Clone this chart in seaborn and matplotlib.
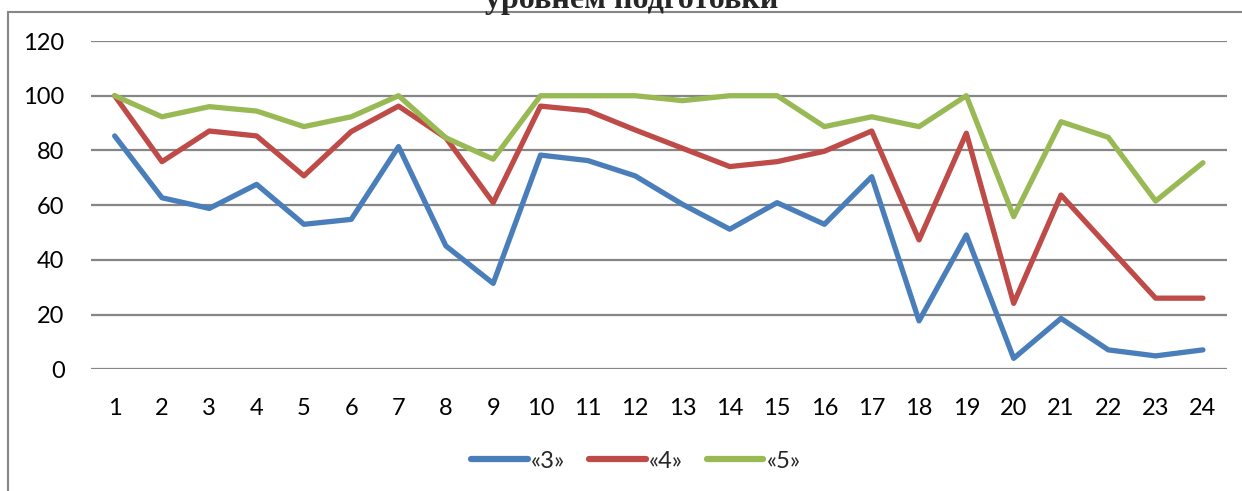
import matplotlib
matplotlib.use('Agg')
import matplotlib.pyplot as plt
import seaborn as sns
import pandas as pd
from matplotlib.patches import Rectangle

# values
lessons = list(range(1, 25))
grade_3 = [85.3, 62.7, 58.8, 67.6, 53.0, 54.8, 81.4, 45.1, 31.4, 78.3, 76.3, 70.7,
           60.3, 51.2, 60.9, 53.0, 70.4, 17.7, 49.1, 4.0, 18.6, 7.1, 4.9, 7.1]
grade_4 = [100, 75.9, 87.1, 85.3, 70.7, 86.9, 96.2, 84.6, 60.9, 96.2, 94.5, 87.5,
           80.8, 74.1, 75.9, 79.7, 87.1, 47.3, 86.3, 24.1, 63.7, 44.8, 26.0, 26.0]
grade_5 = [100, 92.3, 96.0, 94.4, 88.7, 92.3, 100, 84.6, 76.8, 100, 100, 100,
           98.2, 100, 100, 88.7, 92.3, 88.7, 100, 55.8, 90.5, 84.8, 61.5, 75.5]
series_names = ['«3»', '«4»', '«5»']
colors = ['#4A7EBB', '#BE4B48', '#98B954']

df = pd.DataFrame({
    'lesson': lessons * 3,
    'value': grade_3 + grade_4 + grade_5,
    'series': [series_names[0]] * 24 + [series_names[1]] * 24 + [series_names[2]] * 24,
})

sns.set_style('white')
plt.rcParams['font.family'] = ['Lato', 'DejaVu Sans']

fig = plt.figure(figsize=(12.42, 4.91), dpi=100)
ax = fig.add_axes([91 / 1242, 1 - 369.3 / 491, (1226.6 - 91) / 1242, (369.3 - 41) / 491])

sns.lineplot(data=df, x='lesson', y='value', hue='series', palette=colors,
             linewidth=3.8, ax=ax, legend=True)
for line in ax.lines:
    line.set_solid_capstyle('round')
    line.set_solid_joinstyle('round')

ax.set_xlim(0.5, 24.5)
ax.set_ylim(0, 120)
ax.set_xticks(lessons)
ax.set_yticks(range(0, 121, 20))
ax.set_xlabel('')
ax.set_ylabel('')
ax.grid(axis='y', color='#868686', linewidth=1.6)
ax.set_axisbelow(True)
for s in ax.spines.values():
    s.set_visible(False)
ax.tick_params(axis='both', length=0, labelsize=17, colors='black')
ax.tick_params(axis='x', pad=21)
ax.tick_params(axis='y', pad=19)

leg = ax.legend(loc='center', bbox_to_anchor=(636 / 1242, 1 - 461 / 491),
                bbox_transform=fig.transFigure, ncol=3, frameon=False,
                fontsize=17, handlelength=2.4, handletextpad=0.15,
                columnspacing=1.0)
for h in leg.get_lines():
    h.set_linewidth(4.5)
    h.set_solid_capstyle('round')

# chart frame (partly outside the picture)
fig.patches.append(Rectangle((8 / 1242, -0.1), 1.2, 1.1 - 12 / 491,
                             transform=fig.transFigure, fill=False,
                             edgecolor='#868686', linewidth=1.5))

fig.text(632 / 1242, 1 - 8 / 491, 'уровнем подготовки', ha='center',
         va='baseline', family='Liberation Serif', fontweight='bold', fontsize=23)

fig.savefig('out.png', dpi=100)
